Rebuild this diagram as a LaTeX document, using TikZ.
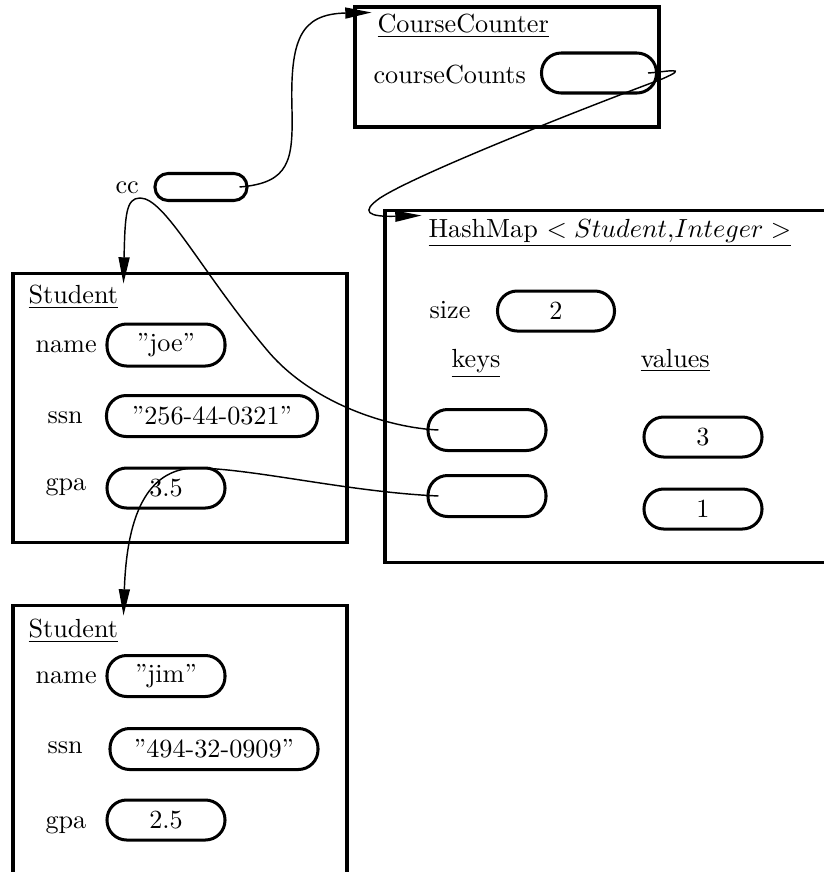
\documentclass[tikz,border=0pt]{standalone}
\usetikzlibrary{arrows.meta,calc}
\def\pxu{0.3817pt}
\begin{document}
\begin{tikzpicture}[x=0.3817pt,y=-0.3817pt,
  objbox/.style={draw, line width=1.15pt, rectangle, inner sep=0},
  oval/.style={draw, line width=1.15pt, rectangle, rounded corners=7.5pt, inner sep=0,
    minimum width=118*\pxu, minimum height=40*\pxu},
  lbl/.style={anchor=base west, inner sep=0},
  ptr/.style={line width=0.55pt, -{Triangle[length=10pt, width=4.2pt]}}]
\useasboundingbox (0,0) rectangle (824,872);
\clip (0,0) rectangle (824,872);

% CourseCounter object
\node[objbox, minimum width=304*\pxu, minimum height=120*\pxu] (ccobj) at (507,67) {};
\node[lbl] (cctitle) at (377,32) {\underline{CourseCounter}};
\node[lbl] (cclabel) at (373,83) {courseCounts};
\node[oval, minimum width=115*\pxu] (countsval) at (599,73) {};

% cc variable
\node[lbl] (ccname) at (115,193) {cc};
\node[oval, minimum width=92*\pxu, minimum height=27*\pxu, rounded corners=5pt] (ccval) at (201,187) {};

% HashMap object
\node[objbox, minimum width=460*\pxu, minimum height=352*\pxu] (hm) at (615,386) {};
\node[lbl] (hmtitle) at (428,237) {\underline{HashMap $<Student{,}Integer>$}};
\node[lbl] (sizelbl) at (429,318) {size};
\node[oval, minimum width=117*\pxu] (sizeval) at (556,311) {2};
\node[lbl] (keyslbl) at (451,367) {\underline{keys}};
\node[lbl] (valslbl) at (640,367) {\underline{values}};
\node[oval, minimum height=41*\pxu] (key1) at (487,430) {};
\node[oval, minimum height=41*\pxu] (key2) at (487,496) {};
\node[oval] (val1) at (703,437) {3};
\node[oval] (val2) at (703,509) {1};

% Student joe
\node[objbox, minimum width=334*\pxu, minimum height=269*\pxu] (stu1) at (180,407.5) {};
\node[lbl] (s1title) at (28,303) {\underline{Student}};
\node[lbl] (s1namel) at (35,352) {name};
\node[oval, minimum height=42*\pxu] (s1name) at (166,345) {''joe''};
\node[lbl] (s1ssnl) at (47,423) {ssn};
\node[oval, minimum width=211*\pxu, minimum height=41*\pxu] (s1ssn) at (212,416) {''256-44-0321''};
\node[lbl] (s1gpal) at (45,490) {gpa};
\node[oval] (s1gpa) at (166,488) {3.5};

% Student jim
\node[objbox, minimum width=334*\pxu, minimum height=295*\pxu] (stu2) at (180,752.5) {};
\node[lbl] (s2title) at (28,637) {\underline{Student}};
\node[lbl] (s2namel) at (35,683) {name};
\node[oval, minimum height=41*\pxu] (s2name) at (166,676) {''jim''};
\node[lbl] (s2ssnl) at (47,753) {ssn};
\node[oval, minimum width=208*\pxu, minimum height=41*\pxu] (s2ssn) at (214,749) {''494-32-0909''};
\node[lbl] (s2gpal) at (45,828) {gpa};
\node[oval] (s2gpa) at (166,820) {2.5};

% pointers
\draw[ptr] ($(ccval.east)+(-9,0)$) .. controls (290,183) and (293,160) .. (292,110)
  .. controls (290,40) and (300,14) .. ($(ccobj.north west)+(18,7)$);
\draw[ptr] ($(countsval.east)+(-10,0)$) .. controls (665,72) and (692,66) .. (662,79)
  .. controls (600,102) and (420,172) .. (380,198)
  .. controls (360,212) and (368,217) .. ($(hm.north west)+(38,7)$);
\draw[ptr] ($(key1.west)+(12,0)$) .. controls (390,428) and (312,404) .. (267,350)
  .. controls (200,270) and (165,198) .. (140,198)
  .. controls (126,198) and (125,215) .. ($(stu1.north west)+(112,12)$);
\draw[ptr] ($(key2.west)+(12,0)$) .. controls (350,492) and (260,470) .. (200,468)
  .. controls (150,466) and (127,510) .. ($(stu2.north west)+(112,12)$);
\end{tikzpicture}
\end{document}
